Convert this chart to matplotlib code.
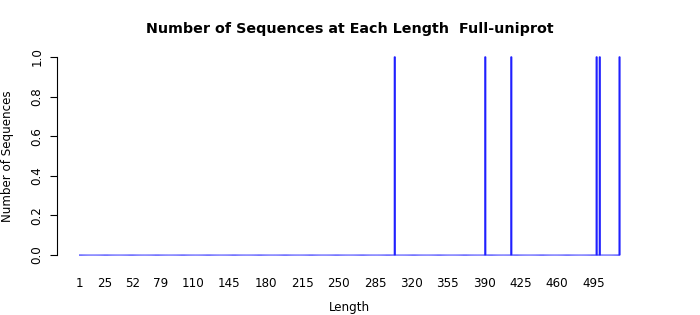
import numpy as np
import matplotlib
matplotlib.use("Agg")
import matplotlib.pyplot as plt

# sequence lengths 1..520, count per length (only a handful present)
lengths = np.arange(1, 521)
hit_lengths = [304, 391, 416, 498, 501, 520]
hit_counts = [1, 1, 1, 1, 1, 1]
counts = np.zeros(len(lengths))
for l, c in zip(hit_lengths, hit_counts):
    counts[l - 1] = c

x_labels = [1, 25, 52, 79, 110, 145, 180, 215, 250, 285, 320, 355, 390, 425, 460, 495]
y_ticks = [0.0, 0.2, 0.4, 0.6, 0.8, 1.0]

W, H = 700, 315
fig = plt.figure(figsize=(W / 100, H / 100), dpi=100)
left, right, top, bottom = 57.4, 641.6, 49, 263
ax = fig.add_axes([left / W, (H - bottom) / H, (right - left) / W, (bottom - top) / H])

bars = ax.bar(lengths, counts, width=1 / 1.2, color="#2020ff", edgecolor="#2020ff", linewidth=0.9)
for b in bars:
    b.set_snap(False)

bw = 0.5 / 1.2
span = (lengths[-1] + bw) - (lengths[0] - bw)
ax.set_xlim(lengths[0] - bw - 0.04 * span, lengths[-1] + bw + 0.04 * span)
ax.set_ylim(-0.04, 1.04)

for s in ["top", "right", "bottom"]:
    ax.spines[s].set_visible(False)
ax.spines["left"].set_bounds(0, 1)
ax.spines["left"].set_linewidth(0.8)

ax.set_yticks(y_ticks)
ax.set_yticklabels(["%.1f" % v for v in y_ticks], rotation=90, va="center", fontsize=8.6)
ax.tick_params(axis="y", length=5, width=0.8, pad=5)

ax.set_xticks(x_labels)
ax.set_xticklabels([str(v) for v in x_labels], fontsize=8.6)
ax.tick_params(axis="x", length=0, pad=10)

fig.text(349.5 / W, 1 - 29 / H, "Number of Sequences at Each Length  Full-uniprot",
         ha="center", va="center", fontsize=10.3, fontweight="bold")
fig.text(349.5 / W, 1 - 307 / H, "Length", ha="center", va="center", fontsize=8.6)
fig.text(8 / W, 1 - 156 / H, "Number of Sequences", ha="center", va="center",
         rotation=90, fontsize=8.6)

fig.savefig("out.png", dpi=100, facecolor="white")
